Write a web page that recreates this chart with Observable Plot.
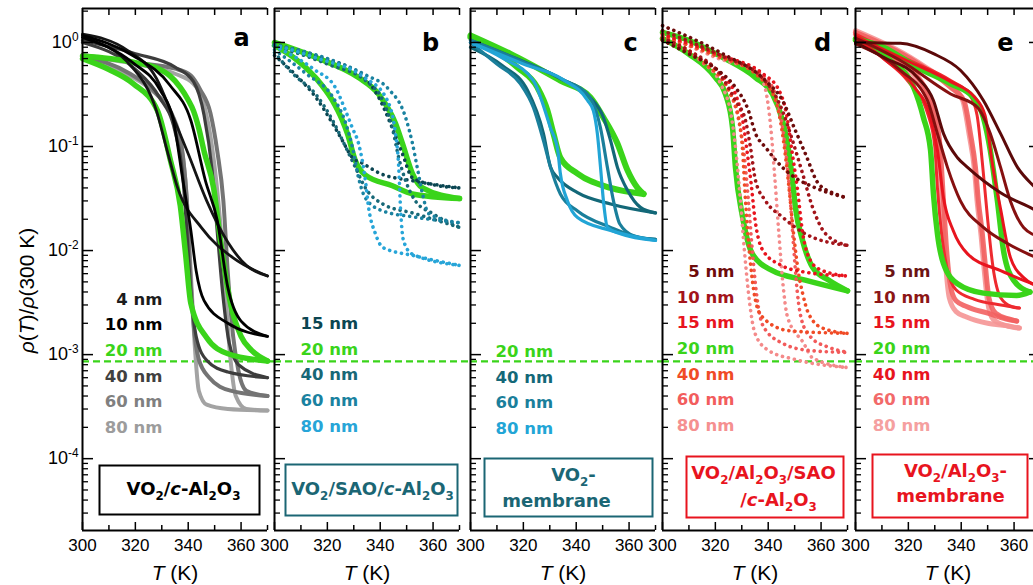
<!DOCTYPE html>
<html><head><meta charset="utf-8">
<script src="https://cdn.jsdelivr.net/npm/d3@7"></script>
<script src="https://cdn.jsdelivr.net/npm/@observablehq/plot@0.6"></script>
<style>
html,body{margin:0;padding:0;background:#fff;overflow:hidden;}
#chart{position:relative;width:1033px;height:585px;overflow:hidden;background:#fff;}
#chart svg{position:absolute;top:0;}
</style></head><body><div id="chart"></div>
<script>
// ---------- axes / ticks ----------
const T_DOMAIN = [300, 370];
const T_MAJOR = [300, 320, 340, 360];
const T_MINOR = [310, 330, 350, 370];
const T_TOP = [310, 320, 330, 340, 350, 360, 370];
const Y_DOMAIN = [2.04e-5, 2.12];
const Y_MAJOR = [1e-4, 1e-3, 1e-2, 1e-1, 1];
const REF_LEVEL = 8.6e-4;   // dashed green reference (20 nm film on c-Al2O3)
const GREEN = "#3ad41a";

// ---------- panel a : VO2/c-Al2O3 ----------
const a4Heat = [[300,1.2],[317,0.84],[328,0.45],[334,0.20],[340,0.085],[347,0.030],[355,0.012],[362,0.0072],[370,0.0057]];
const a4Cool = [[370,0.0057],[357,0.0085],[345,0.0166],[336,0.040],[332,0.092],[328,0.22],[319,0.57],[300,1.12]];
const a10Heat = [[300,1.17],[319,0.75],[333,0.39],[341,0.178],[346.5,0.047],[351,0.0194],[355,0.0044],[360,0.0021],[370,0.0015]];
const a10Cool = [[370,0.0015],[355,0.0020],[346,0.0033],[343,0.0064],[341,0.0156],[338,0.047],[334.4,0.178],[329.5,0.345],[319,0.64],[300,1.12]];
const a20Heat = [[300,0.74],[310,0.70],[320,0.64],[328,0.57],[333,0.48],[337,0.37],[340,0.28],[342,0.22],[344,0.15],[346,0.09],[349.6,0.04],[352.5,0.011],[356,0.0031],[360,0.0015],[364,0.0011],[370,0.00087]];
const a20Cool = [[370,0.00087],[355,0.00102],[347,0.00145],[341,0.0031],[339,0.0093],[337,0.027],[333.3,0.073],[328.4,0.22],[319.3,0.40],[310,0.55],[300,0.70]];
const a40Heat = [[300,1.05],[320,0.78],[335,0.58],[342,0.42],[346,0.2],[349,0.06],[351,0.015],[353,0.004],[355.5,0.0013],[359,0.0008],[370,0.0006]];
const a40Cool = [[370,0.0006],[355,0.00068],[347,0.00088],[343,0.0015],[341,0.004],[339.5,0.015],[338,0.05],[335,0.14],[329,0.3],[320,0.55],[300,1.0]];
const a60Heat = [[300,0.76],[320,0.64],[335,0.56],[341,0.48],[344.6,0.35],[348.4,0.21],[351,0.09],[353.3,0.03],[355,0.006],[357,0.0015],[359,0.0007],[362,0.00045],[370,0.0004]];
const a60Cool = [[370,0.0004],[356,0.00045],[348,0.0006],[344,0.0009],[342,0.002],[340.5,0.008],[339.5,0.03],[338,0.08],[335,0.17],[328,0.32],[318,0.5],[300,0.74]];
const a80Heat = [[300,0.74],[320,0.62],[335,0.5],[342,0.4],[346,0.25],[349,0.1],[352,0.02],[354,0.004],[356,0.0009],[358,0.0004],[362,0.0003],[370,0.00029]];
const a80Cool = [[370,0.00029],[355,0.0003],[347,0.00033],[344,0.00045],[342.5,0.0012],[341,0.006],[339.5,0.03],[337.5,0.1],[334,0.2],[326,0.35],[315,0.52],[300,0.72]];
const aLabels = ["4 nm","10 nm","20 nm","40 nm","60 nm","80 nm"];
const aColors = ["#1c1c1c","#000000",GREEN,"#404040","#808080","#9c9c9c"];

// ---------- panel b : VO2/SAO/c-Al2O3 ----------
const b15Heat = [[300,0.95],[315.5,0.75],[334.4,0.45],[339.3,0.30],[344.6,0.15],[348.4,0.085],[352.2,0.050],[360,0.043],[370,0.040]];
const b15Cool = [[370,0.040],[352,0.047],[340,0.055],[333.3,0.069],[329.5,0.078],[325.7,0.114],[322,0.166],[315.5,0.30],[309,0.46],[300,0.75]];
const b20Heat = [[300,1.0],[315.5,0.72],[331.8,0.46],[339.3,0.32],[345.8,0.166],[348.4,0.107],[352.2,0.055],[356,0.040],[370,0.0316]];
const b20Cool = [[370,0.0316],[352.2,0.035],[344.6,0.042],[334.4,0.053],[330.6,0.073],[327.6,0.133],[325.7,0.178],[321.9,0.277],[315.5,0.46],[300,0.935]];
const b40Heat = [[300,0.93],[320,0.62],[335,0.42],[341,0.277],[344.6,0.15],[347,0.078],[349.6,0.047],[353.3,0.030],[359.8,0.0227],[370,0.0167]];
const b40Cool = [[370,0.0167],[353,0.0227],[341,0.028],[334.4,0.040],[330.6,0.063],[327,0.098],[322,0.178],[315.5,0.32],[307,0.5],[300,0.8]];
const b60Heat = [[300,0.95],[320,0.7],[335,0.48],[343,0.36],[349.6,0.19],[352.2,0.107],[354,0.063],[356,0.035],[358.3,0.0227],[370,0.0185]];
const b60Cool = [[370,0.0185],[353,0.021],[341,0.024],[334.4,0.032],[331.8,0.050],[329.5,0.098],[327,0.166],[322,0.30],[312,0.5],[300,0.85]];
const b80Heat = [[300,0.95],[315,0.72],[334,0.46],[342,0.30],[345.8,0.133],[347,0.063],[347.7,0.025],[348.8,0.0125],[352,0.0093],[370,0.0072]];
const b80Cool = [[370,0.0072],[353,0.0089],[341,0.0107],[338.2,0.0145],[335.6,0.026],[334.4,0.047],[331.8,0.107],[329.5,0.15],[326.9,0.22],[323,0.37],[315,0.55],[300,0.92]];
const bLabels = ["15 nm","20 nm","40 nm","60 nm","80 nm"];
const bColors = ["#0b4652",GREEN,"#176877","#1a82a0","#27a5d8"];

// ---------- panel c : VO2 membrane ----------
const c20Heat = [[300,1.17],[315,0.78],[334,0.43],[345.4,0.296],[350.3,0.19],[355.6,0.107],[359.4,0.059],[363.2,0.040],[365.5,0.035]];
const c20Cool = [[365.5,0.035],[353,0.040],[340.5,0.055],[334,0.078],[331.4,0.133],[329.1,0.222],[325.3,0.37],[317.8,0.575],[300,1.12]];
const c40Heat = [[300,1.05],[315,0.74],[334,0.45],[345,0.30],[350.3,0.19],[353,0.114],[355.6,0.063],[359.4,0.038],[364.3,0.026],[370,0.023]];
const c40Cool = [[370,0.023],[353,0.028],[340.5,0.036],[333,0.05],[330.3,0.063],[327.6,0.133],[321.6,0.345],[312,0.6],[300,0.9]];
const c60Heat = [[300,1.05],[320,0.65],[335,0.44],[345,0.3],[349.2,0.15],[351.8,0.063],[354.1,0.030],[356.5,0.018],[362,0.0138],[370,0.0128]];
const c60Cool = [[370,0.0128],[364,0.0133],[353,0.0167],[340.5,0.024],[334,0.035],[330.3,0.063],[327.6,0.114],[323.8,0.237],[318.9,0.40],[310,0.62],[300,1.0]];
const c80Heat = [[300,1.0],[320,0.62],[335,0.44],[344.3,0.277],[346.5,0.22],[348,0.133],[349.2,0.063],[350.3,0.030],[351.8,0.0167],[356.7,0.0145],[370,0.0125]];
const c80Cool = [[370,0.0125],[353,0.0156],[340.5,0.0208],[336.7,0.030],[334,0.055],[333,0.092],[330.3,0.15],[323.8,0.43],[312.5,0.70],[300,1.0]];
const cLabels = ["20 nm","40 nm","60 nm","80 nm"];
const cColors = [GREEN,"#136878","#1a7f9b","#22a5d6"];

// ---------- panel d : VO2/Al2O3/SAO/c-Al2O3 ----------
const d5Heat = [[300,1.45],[322.7,0.78],[339,0.43],[345.4,0.277],[350.3,0.142],[354,0.086],[359,0.044],[365.5,0.035],[370,0.032]];
const d5Cool = [[370,0.032],[357.9,0.040],[350.3,0.050],[345.4,0.063],[339,0.098],[335.2,0.133],[332.5,0.222],[327.6,0.37],[321,0.54],[309.8,0.78],[300,1.05]];
const d10Heat = [[300,1.3],[322,0.75],[338,0.45],[345.4,0.22],[349.2,0.114],[353,0.055],[356.8,0.026],[361.7,0.0145],[370,0.0112]];
const d10Cool = [[370,0.0112],[354,0.0145],[345.4,0.021],[339,0.030],[335.2,0.047],[333.3,0.098],[331.4,0.178],[327.6,0.277],[322.7,0.46],[309.8,0.84],[300,1.1]];
const d15Heat = [[300,1.2],[322,0.75],[338,0.5],[344,0.35],[347,0.2],[349,0.09],[351,0.04],[353,0.015],[356,0.008],[360,0.0065],[370,0.0057]];
const d15Cool = [[370,0.0057],[354,0.0062],[345,0.0072],[338,0.01],[335,0.02],[333.5,0.045],[332,0.09],[330.5,0.17],[328,0.3],[322,0.5],[312,0.75],[300,1.05]];
const d20Heat = [[300,1.25],[309.8,1.05],[322.7,0.72],[335.2,0.46],[341.6,0.32],[345.4,0.178],[347.7,0.092],[349.2,0.047],[350.3,0.026],[353,0.0125],[356.8,0.0069],[362.8,0.0052],[370,0.0041]];
const d20Cool = [[370,0.0041],[354,0.0052],[341.6,0.0064],[334,0.0093],[330.3,0.021],[327.6,0.063],[326.5,0.152],[323.8,0.32],[320,0.46],[309.8,0.78],[300,1.09]];
const d40Heat = [[300,1.15],[320,0.75],[336,0.48],[342.8,0.277],[345.4,0.133],[347.7,0.044],[349.6,0.0145],[351.5,0.006],[353,0.0039],[355.2,0.0025],[360.5,0.0018],[370,0.0016]];
const d40Cool = [[370,0.0016],[347.7,0.0017],[337.8,0.0023],[335.2,0.0033],[334,0.0052],[331.4,0.030],[330.3,0.092],[328.8,0.19],[325,0.345],[316.3,0.63],[300,1.1]];
const d60Heat = [[300,1.15],[322,0.72],[338,0.48],[343,0.3],[346,0.12],[348,0.04],[349.5,0.012],[351,0.004],[353,0.002],[357,0.0014],[362,0.0012],[370,0.00105]];
const d60Cool = [[370,0.00105],[355,0.0011],[345,0.0013],[338,0.0019],[335.5,0.004],[334,0.01],[332.5,0.03],[331,0.08],[329,0.17],[325,0.35],[316,0.62],[300,1.1]];
const d80Heat = [[300,1.2],[320,0.72],[336,0.5],[339,0.35],[341,0.15],[342.5,0.05],[344,0.015],[345.5,0.005],[347.3,0.0023],[353.3,0.0013],[356.8,0.00093],[370,0.00075]];
const d80Cool = [[370,0.00075],[350,0.0009],[340,0.0011],[335,0.0016],[332.5,0.004],[331,0.01],[329.5,0.03],[328,0.08],[326,0.2],[322,0.4],[315,0.65],[300,1.1]];
const dLabels = ["5 nm","10 nm","15 nm","20 nm","40 nm","60 nm","80 nm"];
const dColors = ["#6e0b0b","#a3141a","#e8141e",GREEN,"#f04b26","#f25d5d","#f59090"];

// ---------- panel e : VO2/Al2O3 membrane ----------
const e5Heat = [[300,1.0],[317,0.98],[329.5,0.78],[339.7,0.54],[348.4,0.277],[354.9,0.133],[361.3,0.063],[367.3,0.042],[370,0.036]];
const e5Cool = [[370,0.023],[367.3,0.025],[354.9,0.036],[342.4,0.063],[338.6,0.078],[333.3,0.133],[329.5,0.277],[323.5,0.46],[310.6,0.72],[300,1.0]];
const e10Heat = [[300,1.1],[317,0.67],[336,0.32],[346.2,0.237],[351,0.133],[354.9,0.063],[358.6,0.030],[363.6,0.0167],[370,0.0135]];
const e10Cool = [[370,0.0082],[357.5,0.0117],[348.4,0.0167],[339.7,0.030],[334.8,0.063],[331,0.133],[327.2,0.277],[317,0.54],[300,0.97]];
const e15Heat = [[300,1.15],[320,0.66],[336,0.42],[345,0.3],[349,0.2],[352,0.063],[354.9,0.025],[358.6,0.0086],[363.6,0.0055],[370,0.0045]];
const e15Cool = [[370,0.0045],[354.9,0.0064],[342.4,0.0093],[337,0.0155],[333.3,0.032],[331,0.092],[328.4,0.19],[322,0.38],[312,0.66],[300,1.1]];
const e20Heat = [[300,1.09],[310.6,0.90],[323.5,0.575],[336,0.40],[344.6,0.296],[348.4,0.19],[351,0.092],[353.7,0.030],[356,0.010],[359.8,0.0052],[366,0.0040]];
const e20Cool = [[366,0.0040],[361,0.0037],[348.4,0.0039],[338.6,0.0048],[333.3,0.0075],[331,0.0145],[329.5,0.035],[328.4,0.092],[325.7,0.19],[322,0.37],[313.2,0.67],[300,1.05]];
const e40Heat = [[300,1.2],[320,0.68],[336,0.43],[343,0.32],[346,0.2],[348,0.07],[350,0.02],[352,0.007],[355,0.0035],[359,0.0029],[362,0.0028]];
const e40Cool = [[362,0.0028],[355,0.003],[345,0.0034],[338,0.0042],[334.5,0.007],[332.5,0.015],[331,0.04],[330,0.1],[327.5,0.2],[320,0.42],[310,0.72],[300,1.15]];
const e60Heat = [[300,1.25],[323.5,0.63],[336,0.37],[341,0.277],[343.5,0.133],[345.4,0.063],[346.5,0.03],[348,0.0145],[349.2,0.0069],[350.5,0.0035],[353,0.0025],[358,0.0022],[361,0.0021]];
const e60Cool = [[361,0.0021],[357,0.0022],[350,0.0025],[342,0.0029],[338,0.0033],[336,0.0045],[334.5,0.01],[333.3,0.03],[332,0.1],[330,0.2],[324,0.45],[312,0.75],[300,1.2]];
const e80Heat = [[300,1.3],[323.5,0.65],[336,0.38],[340.5,0.28],[343,0.13],[345,0.06],[346,0.03],[347.5,0.014],[348.7,0.0065],[350,0.0032],[352,0.0022],[357,0.0019],[362,0.0018]];
const e80Cool = [[362,0.0018],[357,0.0019],[350,0.002],[342,0.0023],[338,0.0026],[335.5,0.0035],[334,0.008],[332.8,0.025],[331.5,0.09],[329.5,0.2],[323,0.45],[311,0.76],[300,1.25]];
const eLabels = ["5 nm","10 nm","15 nm","20 nm","40 nm","60 nm","80 nm"];
const eColors = ["#6b1414","#8c1616","#e8141e",GREEN,"#e8141e","#f26a6a","#f5a0a0"];

// ---------- helpers ----------
function rows(heat, cool) {
  const c = cool.slice().sort((p, q) => p[0] - q[0]);
  return [...heat.map(([T, v]) => ({T, v, b: "heat"})), ...c.map(([T, v]) => ({T, v, b: "cool"}))];
}
const Y_MINOR = [];
for (let e = -5; e <= 0; e++) for (let k = 2; k <= 9; k++) {
  const v = k * Math.pow(10, e);
  if (v > Y_DOMAIN[0] && v < Y_DOMAIN[1]) Y_MINOR.push(v);
}

const FW = 185, FH = 522, MT = 8, MB = 55;
const BOLD = "DejaVu Sans, Verdana, sans-serif";
const SANS = "Liberation Sans, Arial, sans-serif";

function makePanel(p) {
  const ML = p.first ? 82 : 24, MR = 24;
  const marks = [];
  marks.push(Plot.ruleY([REF_LEVEL], {x1: 300, x2: 374, stroke: GREEN, strokeWidth: 2.3, strokeDasharray: "7,4"}));
  for (const s of p.series) {
    marks.push(Plot.line(rows(s.heat, s.cool), {
      x: "T", y: "v", z: "b", curve: "monotone-x",
      stroke: s.color, strokeWidth: s.w, strokeOpacity: s.op ?? 1,
      strokeLinecap: "round", strokeLinejoin: "round",
      strokeDasharray: s.dot ? "0.1,6" : undefined
    }));
  }
  // frame lines
  marks.push(Plot.ruleX([T_DOMAIN[0]], {stroke: "#000", strokeWidth: 2}));
  marks.push(Plot.ruleY([Y_DOMAIN[1]], {x1: T_DOMAIN[0], x2: T_DOMAIN[1], stroke: "#000", strokeWidth: 2}));
  marks.push(Plot.ruleY([Y_DOMAIN[0]], {x1: T_DOMAIN[0], x2: T_DOMAIN[1], stroke: "#000", strokeWidth: 2}));
  if (p.rightAxis) marks.push(Plot.ruleX([T_DOMAIN[1]], {stroke: "#000", strokeWidth: 2}));
  // inward ticks
  marks.push(Plot.tickX(T_MAJOR, {x: d => d, insetTop: FH - 8, stroke: "#000", strokeWidth: 1.5}));
  marks.push(Plot.tickX(T_MINOR, {x: d => d, insetTop: FH - 5, stroke: "#000", strokeWidth: 1.5}));
  marks.push(Plot.tickX(T_TOP, {x: d => d, insetBottom: FH - 7, stroke: "#000", strokeWidth: 1.5}));
  marks.push(Plot.tickY(Y_MAJOR, {y: d => d, insetRight: FW - 11, stroke: "#000", strokeWidth: 1.5}));
  marks.push(Plot.tickY(Y_MINOR, {y: d => d, insetRight: FW - 6, stroke: "#000", strokeWidth: 1.3}));
  if (p.rightAxis) {
    marks.push(Plot.tickY(Y_MAJOR, {y: d => d, insetLeft: FW - 11, stroke: "#000", strokeWidth: 1.5}));
    marks.push(Plot.tickY(Y_MINOR, {y: d => d, insetLeft: FW - 6, stroke: "#000", strokeWidth: 1.3}));
  }
  // axes labels
  marks.push(Plot.axisX({ticks: T_MAJOR, tickSize: 0, tickPadding: 8, label: null, fontSize: 17, fontFamily: SANS}));
  if (p.first) {
    marks.push(Plot.axisY({ticks: Y_MAJOR, tickSize: 0, tickPadding: 4, label: null, fontSize: 18, fontFamily: SANS,
      tickFormat: d => `10^{${Math.round(Math.log10(d))}}`}));
    marks.push(Plot.text(["*ρ*(*T*)/*ρ*(300 K)"], {text: d => d, frameAnchor: "left", dx: -55, dy: 21, rotate: -90,
      fontSize: 21, fontFamily: SANS, lineAnchor: "middle", textAnchor: "middle", fill: "#000"}));
  }
  marks.push(Plot.text(["*T* (K)"], {text: d => d, frameAnchor: "bottom", dy: 43, fontSize: 21, fontFamily: SANS,
    lineAnchor: "middle", textAnchor: "middle", fill: "#000"}));
  // panel letter
  marks.push(Plot.text([p.letter], {text: d => d, frameAnchor: "top-right", dx: p.letterDx, dy: p.letterDy,
    fontSize: 24, fontWeight: "bold", fontFamily: BOLD, lineAnchor: "middle", textAnchor: "middle", fill: "#000"}));
  // thickness legend
  p.labels.forEach((lab, i) => {
    marks.push(Plot.text([lab], {text: d => d, frameAnchor: "top-left", dx: p.leg.dx, dy: p.leg.y0 + i * 25.6,
      fontSize: 16.5, fontWeight: "bold", fontFamily: BOLD, textAnchor: p.leg.anchor, lineAnchor: "middle", fill: p.colors[i]}));
  });
  // sample box
  marks.push(Plot.frame({stroke: p.box.color, strokeWidth: 2, insetLeft: p.box.l, insetRight: p.box.r, insetTop: p.box.t, insetBottom: p.box.b}));
  for (const ln of p.box.lines) {
    marks.push(Plot.text([ln.t], {text: d => d, frameAnchor: "top-left", dx: ln.dx, dy: ln.dy, fontSize: 18, fontWeight: "bold",
      fontFamily: BOLD, textAnchor: "middle", lineAnchor: "middle", fill: p.box.color}));
  }
  const svg = Plot.plot({
    width: ML + FW + MR, height: MT + FH + MB,
    marginLeft: ML, marginRight: MR, marginTop: MT, marginBottom: MB,
    x: {domain: T_DOMAIN},
    y: {type: "log", domain: Y_DOMAIN, ...(p.first ? {} : {axis: null})},
    style: {background: "transparent", overflow: "visible", fontFamily: SANS, fontSize: "17px", color: "#000"},
    marks
  });
  svg.style.left = (p.x0 - ML) + "px";
  return svg;
}

function parseMarkup(s) {
  const parts = []; let italic = false, buf = "", i = 0;
  const flush = () => { if (buf) { parts.push({t: buf, k: "n", it: italic}); buf = ""; } };
  while (i < s.length) {
    const c = s[i];
    if (c === "*") { flush(); italic = !italic; i++; }
    else if (c === "_" || c === "^") {
      flush();
      let t;
      if (s[i + 1] === "{") { const j = s.indexOf("}", i + 2); t = s.slice(i + 2, j); i = j + 1; }
      else { t = s[i + 1]; i += 2; }
      parts.push({t, k: c === "_" ? "sub" : "sup", it: italic});
    } else { buf += c; i++; }
  }
  flush();
  return parts;
}
function richify(svg) {
  const NS = "http://www.w3.org/2000/svg";
  const leaves = [...svg.querySelectorAll("text")].flatMap(t => {
    const ts = t.querySelectorAll("tspan"); return ts.length ? [...ts] : [t];
  });
  for (const el of leaves) {
    const s = el.textContent;
    if (!/[_^*]/.test(s)) continue;
    const fs = parseFloat(getComputedStyle(el).fontSize) || 16;
    el.textContent = "";
    let shift = 0;
    for (const p of parseMarkup(s)) {
      const sp = document.createElementNS(NS, "tspan");
      let target = 0;
      if (p.k === "sub") { target = 0.27 * fs; sp.setAttribute("font-size", (0.66 * fs).toFixed(2)); }
      if (p.k === "sup") { target = -0.40 * fs; sp.setAttribute("font-size", (0.66 * fs).toFixed(2)); }
      const d = target - shift;
      if (d) sp.setAttribute("dy", d.toFixed(2));
      shift = target;
      if (p.it) sp.setAttribute("font-style", "italic");
      sp.textContent = p.t;
      el.appendChild(sp);
    }
  }
}

const TEAL = "#1b6674", RED = "#e8141e";
const panels = [
  {x0: 82, first: true, letter: "a", letterDx: -26, letterDy: 30,
   series: [
     {heat: a80Heat, cool: a80Cool, color: "#a3a3a3", w: 4},
     {heat: a60Heat, cool: a60Cool, color: "#747474", w: 4},
     {heat: a40Heat, cool: a40Cool, color: "#3d3d3d", w: 3.2},
     {heat: a20Heat, cool: a20Cool, color: GREEN, w: 5.5},
     {heat: a4Heat, cool: a4Cool, color: "#141414", w: 2.8},
     {heat: a10Heat, cool: a10Cool, color: "#000", w: 2.8}],
   labels: aLabels, colors: aColors, leg: {anchor: "end", dx: 80, y0: 291},
   box: {color: "#000", l: 17, r: 8, t: 457, b: 16, lines: [{t: "VO_2/*c*-Al_2O_3", dx: 101, dy: 481}]}},
  {x0: 274, letter: "b", letterDx: -29, letterDy: 35,
   series: [
     {heat: b20Heat, cool: b20Cool, color: GREEN, w: 5.5},
     {heat: b15Heat, cool: b15Cool, color: "#0b4652", w: 3.6, dot: true},
     {heat: b40Heat, cool: b40Cool, color: "#176877", w: 3.6, dot: true},
     {heat: b60Heat, cool: b60Cool, color: "#1a82a0", w: 3.6, dot: true},
     {heat: b80Heat, cool: b80Cool, color: "#27a5d8", w: 3.6, dot: true}],
   labels: bLabels, colors: bColors, leg: {anchor: "start", dx: 26, y0: 315.5},
   box: {color: TEAL, l: 11, r: 2, t: 456, b: 15, lines: [{t: "VO_2/SAO/*c*-Al_2O_3", dx: 98, dy: 481}]}},
  {x0: 470, letter: "c", letterDx: -25, letterDy: 35,
   series: [
     {heat: c20Heat, cool: c20Cool, color: GREEN, w: 6},
     {heat: c40Heat, cool: c40Cool, color: "#136878", w: 3.2},
     {heat: c60Heat, cool: c60Cool, color: "#1a7f9b", w: 3.2},
     {heat: c80Heat, cool: c80Cool, color: "#22a5d6", w: 3.2}],
   labels: cLabels, colors: cColors, leg: {anchor: "start", dx: 25, y0: 343.5},
   box: {color: TEAL, l: 14, r: 3, t: 450, b: 14, lines: [{t: "VO_2-", dx: 103, dy: 467}, {t: "membrane", dx: 86, dy: 493}]}},
  {x0: 662, letter: "d", letterDx: -25, letterDy: 35,
   series: [
     {heat: d20Heat, cool: d20Cool, color: GREEN, w: 5.5},
     {heat: d80Heat, cool: d80Cool, color: "#f48a8a", w: 3.6, dot: true},
     {heat: d60Heat, cool: d60Cool, color: "#f25a5a", w: 3.6, dot: true},
     {heat: d40Heat, cool: d40Cool, color: "#f04b26", w: 3.6, dot: true},
     {heat: d15Heat, cool: d15Cool, color: "#e8141e", w: 3.6, dot: true},
     {heat: d10Heat, cool: d10Cool, color: "#a3141a", w: 3.6, dot: true},
     {heat: d5Heat, cool: d5Cool, color: "#6e0b0b", w: 3.6, dot: true}],
   labels: dLabels, colors: dColors, leg: {anchor: "end", dx: 72, y0: 263.5},
   box: {color: RED, l: 24, r: 4, t: 448, b: 13, lines: [{t: "VO_2/Al_2O_3/SAO", dx: 101, dy: 465}, {t: "/*c*-Al_2O_3", dx: 116, dy: 492}]}},
  {x0: 855, rightAxis: true, letter: "e", letterDx: -35, letterDy: 35,
   series: [
     {heat: e80Heat, cool: e80Cool, color: "#f59595", w: 5, op: 0.9},
     {heat: e60Heat, cool: e60Cool, color: "#f26060", w: 5, op: 0.9},
     {heat: e40Heat, cool: e40Cool, color: "#ee2a2f", w: 3},
     {heat: e20Heat, cool: e20Cool, color: GREEN, w: 5.5},
     {heat: e15Heat, cool: e15Cool, color: "#e8141e", w: 3},
     {heat: e10Heat, cool: e10Cool, color: "#861010", w: 3},
     {heat: e5Heat, cool: e5Cool, color: "#5c0909", w: 3}],
   labels: eLabels, colors: eColors, leg: {anchor: "end", dx: 75, y0: 263.5},
   box: {color: RED, l: 17, r: 13, t: 446, b: 13, lines: [{t: "VO_2/Al_2O_3-", dx: 100, dy: 463}, {t: "membrane", dx: 95, dy: 488}]}}
];

const host = document.getElementById("chart");
for (const p of panels) {
  const svg = makePanel(p);
  host.appendChild(svg);
  richify(svg);
}
</script></body></html>
